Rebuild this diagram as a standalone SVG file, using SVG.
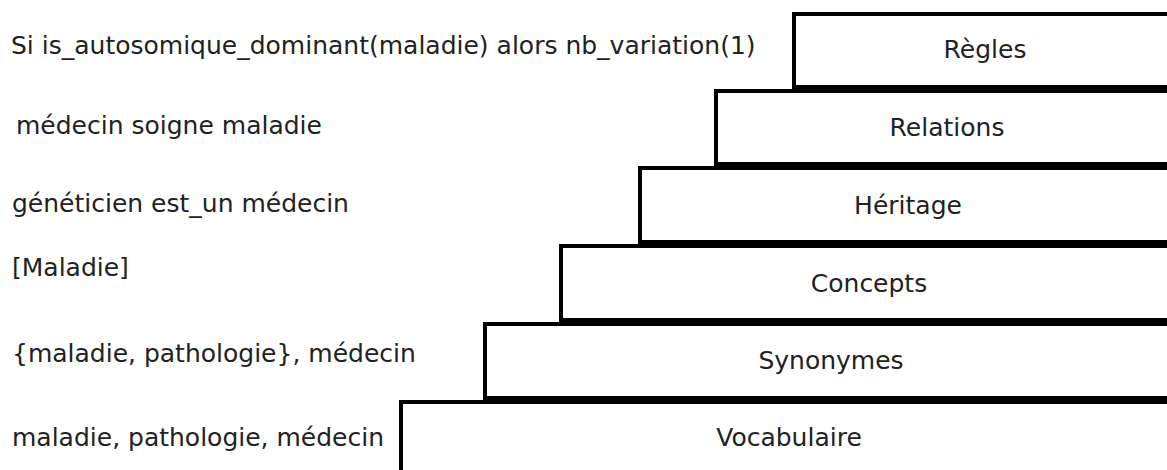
<svg xmlns="http://www.w3.org/2000/svg" width="1167" height="470" viewBox="0 0 1167 470">
  <style>
    .layer { fill: #ffffff; stroke: #000000; stroke-width: 4; }
    .name { font-family: "DejaVu Sans", Verdana, sans-serif; font-size: 25px; fill: #222222; text-anchor: middle; }
    .example { font-family: "DejaVu Sans", Verdana, sans-serif; font-size: 25px; fill: #222222; }
  </style>
  <rect width="1167" height="470" fill="#ffffff"/>

  <!-- Layers of the stack, bottom to top; each runs past the right edge -->
  <g id="vocabulaire">
    <rect class="layer" x="401" y="402" width="790" height="100"/>
    <text class="name" x="789" y="446">Vocabulaire</text>
    <text class="example" x="12" y="446">maladie, pathologie, médecin</text>
  </g>
  <g id="synonymes">
    <rect class="layer" x="485" y="324" width="706" height="74"/>
    <text class="name" x="831" y="369">Synonymes</text>
    <text class="example" x="12" y="362">{maladie, pathologie}, médecin</text>
  </g>
  <g id="concepts">
    <rect class="layer" x="561" y="246" width="630" height="74"/>
    <text class="name" x="869" y="292">Concepts</text>
    <text class="example" x="12" y="276">[Maladie]</text>
  </g>
  <g id="heritage">
    <rect class="layer" x="640" y="168" width="551" height="74"/>
    <text class="name" x="908" y="214">Héritage</text>
    <text class="example" x="12" y="212">généticien est_un médecin</text>
  </g>
  <g id="relations">
    <rect class="layer" x="716" y="91" width="475" height="73"/>
    <text class="name" x="947" y="136">Relations</text>
    <text class="example" x="16" y="134">médecin soigne maladie</text>
  </g>
  <g id="regles">
    <rect class="layer" x="794" y="14" width="397" height="73"/>
    <text class="name" x="985" y="58">Règles</text>
    <text class="example" x="11" y="54">Si is_autosomique_dominant(maladie) alors nb_variation(1)</text>
  </g>

  <g id="connectors"/>
</svg>
